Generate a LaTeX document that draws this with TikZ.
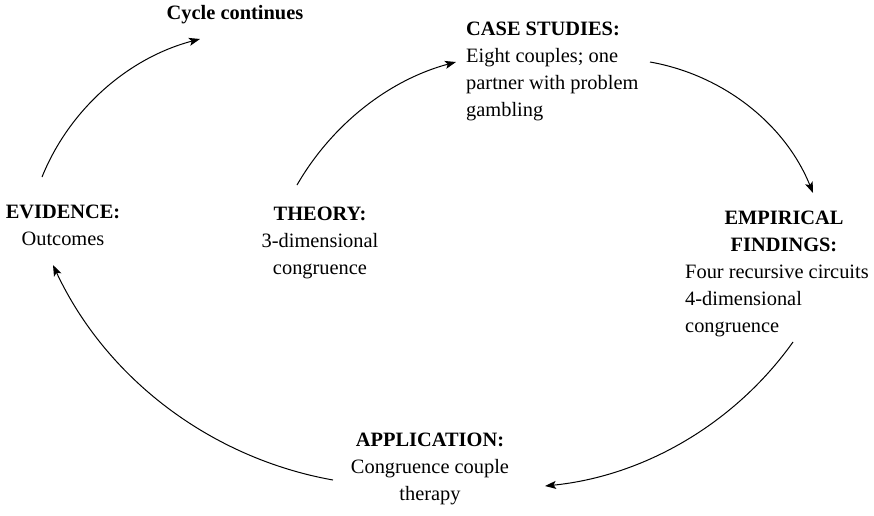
\documentclass[tikz,border=0pt]{standalone}
\usepackage{fontspec}
\setmainfont{Liberation Serif}
\usetikzlibrary{arrows.meta}
\tikzset{
  lbl/.style={inner sep=0pt, font=\fontsize{20.4pt}{27pt}\selectfont},
  flow/.style={line width=1pt, -{Stealth[length=11pt,width=8pt,inset=2.5pt]}}
}
\begin{document}
\begin{tikzpicture}[x=1pt,y=-1pt]
\useasboundingbox (0,0) rectangle (874,515);
% text blocks
\node[lbl, anchor=north, align=center] (cyc) at (235,0.1) {\strut\textbf{Cycle continues}};
\node[lbl, anchor=north west, align=left] (case) at (466,16.1)
  {\strut\textbf{CASE STUDIES:}\\Eight couples; one\\partner with problem\\gambling};
\node[lbl, anchor=north, align=center] (emph) at (784,205.6)
  {\strut\textbf{EMPIRICAL}\\\textbf{FINDINGS:}};
\node[lbl, anchor=north west, align=left] (empb) at (685,259.6)
  {\strut Four recursive circuits\\4-dimensional\\congruence};
\node[lbl, anchor=north, align=center] (theo) at (320,201.6)
  {\strut\textbf{THEORY:}\\3-dimensional\\congruence};
\node[lbl, anchor=north, align=center] (evid) at (63,199.1)
  {\strut\textbf{EVIDENCE:}\\Outcomes};
\node[lbl, anchor=north, align=center] (appl) at (430,427.1)
  {\strut\textbf{APPLICATION:}\\Congruence couple\\therapy};
% connector end points
\coordinate (e1s) at (42,177);  \coordinate (e1e) at (200,39);
\coordinate (t1s) at (297,185); \coordinate (t1e) at (456,62);
\coordinate (c1s) at (650,62);  \coordinate (c1e) at (813,193);
\coordinate (m1s) at (793,342); \coordinate (m1e) at (545,486);
\coordinate (a1s) at (333,480); \coordinate (a1e) at (53,265);
% connectors
\draw[flow] (e1s) .. controls (69.6,108.8) and (128.6,57.8) .. (e1e);
\draw[flow] (t1s) .. controls (331.8,124.7) and (388.8,80) .. (t1e);
\draw[flow] (c1s) .. controls (723.2,74.9) and (785.2,124.1) .. (c1e);
\draw[flow] (m1s) .. controls (734.9,423.4) and (644.5,476) .. (m1e);
\draw[flow] (a1s) .. controls (210.3,458.1) and (105.9,378) .. (a1e);
\end{tikzpicture}
\end{document}
